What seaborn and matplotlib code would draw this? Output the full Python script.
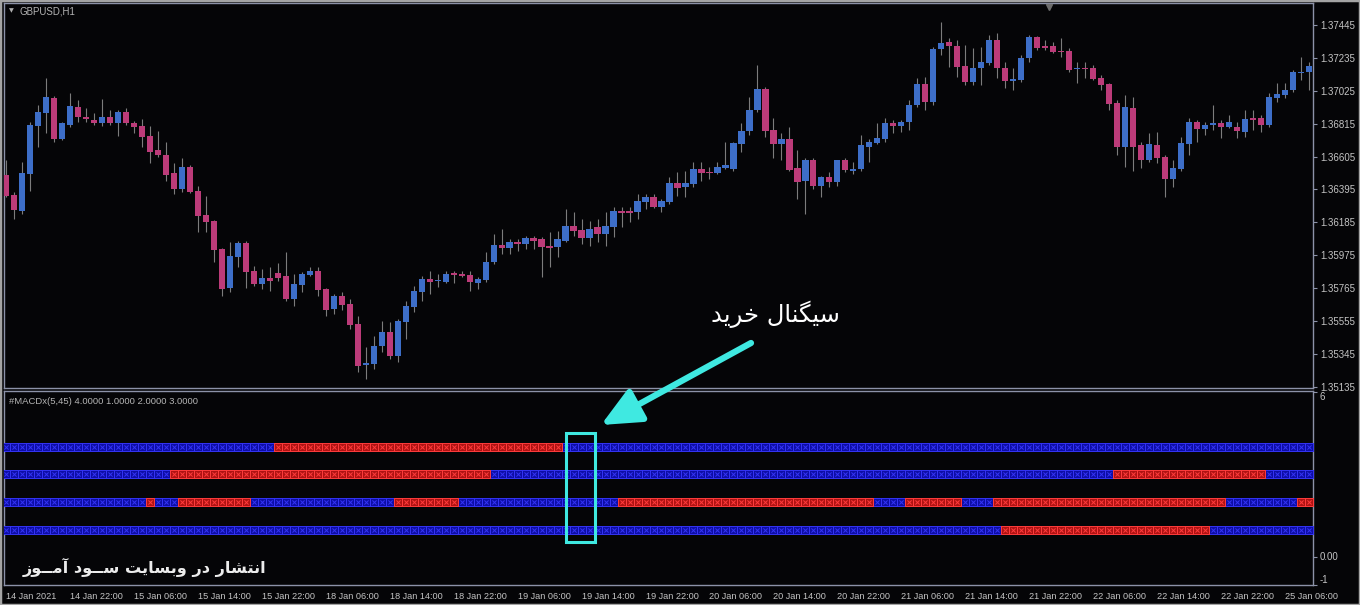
import numpy as np
import pandas as pd
import matplotlib
matplotlib.use("Agg")
import matplotlib.pyplot as plt
import matplotlib.transforms as mtransforms
from matplotlib.patches import Rectangle, FancyArrowPatch
import seaborn as sns

# ---------------- data (GBPUSD H1) ----------------
opens = [1.36485, 1.36358, 1.36255, 1.36491, 1.36803, 1.36885, 1.36981, 1.36720, 1.36809, 1.36923,
         1.36859, 1.36841, 1.36816, 1.36859, 1.36822, 1.36891, 1.36816, 1.36803, 1.36739, 1.36644,
         1.36612, 1.36498, 1.36396, 1.36541, 1.36383, 1.36230, 1.36192, 1.36014, 1.35766, 1.35963,
         1.36053, 1.35874, 1.35791, 1.35830, 1.35862, 1.35842, 1.35696, 1.35785, 1.35849, 1.35874,
         1.35760, 1.35632, 1.35715, 1.35664, 1.35537, 1.35276, 1.35282, 1.35397, 1.35486, 1.35333,
         1.35550, 1.35645, 1.35741, 1.35823, 1.35810, 1.35804, 1.35862, 1.35855, 1.35849, 1.35798,
         1.35817, 1.35931, 1.36040, 1.36021, 1.36059, 1.36046, 1.36084, 1.36078, 1.36033, 1.36027,
         1.36065, 1.36160, 1.36135, 1.36084, 1.36154, 1.36109, 1.36154, 1.36255, 1.36255, 1.36249,
         1.36313, 1.36345, 1.36281, 1.36313, 1.36434, 1.36408, 1.36427, 1.36523, 1.36504, 1.36498,
         1.36535, 1.36523, 1.36682, 1.36771, 1.36904, 1.37038, 1.36777, 1.36682, 1.36720, 1.36529,
         1.36446, 1.36586, 1.36414, 1.36472, 1.36440, 1.36580, 1.36510, 1.36523, 1.36663, 1.36689,
         1.36720, 1.36822, 1.36803, 1.36828, 1.36936, 1.37070, 1.36955, 1.37293, 1.37337, 1.37312,
         1.37184, 1.37082, 1.37171, 1.37203, 1.37350, 1.37171, 1.37089, 1.37095, 1.37235, 1.37368,
         1.37312, 1.37312, 1.37280, 1.37280, 1.37165, 1.37171, 1.37171, 1.37108, 1.37070, 1.36949,
         1.36669, 1.36917, 1.36676, 1.36586, 1.36676, 1.36605, 1.36459, 1.36523, 1.36682, 1.36828,
         1.36784, 1.36809, 1.36822, 1.36796, 1.36796, 1.36764, 1.36853, 1.36853, 1.36809, 1.36981,
         1.37000, 1.37032, 1.37140, 1.37146]
highs = [1.36586, 1.36377, 1.36573, 1.36828, 1.36936, 1.37108, 1.36994, 1.36828, 1.37013, 1.36968,
         1.36917, 1.36885, 1.36975, 1.36904, 1.36904, 1.36917, 1.36835, 1.36847, 1.36803, 1.36771,
         1.36695, 1.36567, 1.36599, 1.36554, 1.36414, 1.36351, 1.36199, 1.36021, 1.36059, 1.36065,
         1.36065, 1.35905, 1.35887, 1.35899, 1.35925, 1.35995, 1.35855, 1.35868, 1.35899, 1.35899,
         1.35766, 1.35728, 1.35741, 1.35696, 1.35587, 1.35391, 1.35460, 1.35556, 1.35550, 1.35569,
         1.35683, 1.35778, 1.35842, 1.35874, 1.35855, 1.35874, 1.35874, 1.35874, 1.35874, 1.35836,
         1.35995, 1.36109, 1.36141, 1.36078, 1.36078, 1.36096, 1.36096, 1.36090, 1.36122, 1.36128,
         1.36268, 1.36249, 1.36205, 1.36192, 1.36205, 1.36249, 1.36281, 1.36281, 1.36281, 1.36364,
         1.36364, 1.36364, 1.36332, 1.36472, 1.36504, 1.36510, 1.36573, 1.36573, 1.36541, 1.36573,
         1.36695, 1.36701, 1.36822, 1.36987, 1.37190, 1.37050, 1.36853, 1.36758, 1.36796, 1.36650,
         1.36599, 1.36599, 1.36478, 1.36504, 1.36586, 1.36593, 1.36573, 1.36745, 1.36714, 1.36822,
         1.36853, 1.36841, 1.36841, 1.36968, 1.37108, 1.37114, 1.37305, 1.37464, 1.37362, 1.37350,
         1.37318, 1.37299, 1.37305, 1.37381, 1.37394, 1.37209, 1.37171, 1.37254, 1.37381, 1.37375,
         1.37350, 1.37337, 1.37362, 1.37299, 1.37209, 1.37209, 1.37190, 1.37127, 1.37076, 1.36968,
         1.37000, 1.36987, 1.36701, 1.36758, 1.36764, 1.36618, 1.36580, 1.36732, 1.36853, 1.36841,
         1.36828, 1.36936, 1.36841, 1.36872, 1.36828, 1.36904, 1.36904, 1.36872, 1.37013, 1.37076,
         1.37076, 1.37159, 1.37241, 1.37209]
lows = [1.36345, 1.36205, 1.36236, 1.36383, 1.36669, 1.36758, 1.36695, 1.36708, 1.36796, 1.36828,
        1.36828, 1.36809, 1.36803, 1.36809, 1.36739, 1.36809, 1.36758, 1.36663, 1.36567, 1.36605,
        1.36446, 1.36364, 1.36377, 1.36371, 1.36122, 1.36122, 1.35931, 1.35715, 1.35741, 1.35899,
        1.35766, 1.35778, 1.35760, 1.35747, 1.35810, 1.35683, 1.35651, 1.35741, 1.35842, 1.35715,
        1.35587, 1.35600, 1.35626, 1.35505, 1.35232, 1.35187, 1.35251, 1.35359, 1.35314, 1.35295,
        1.35442, 1.35613, 1.35683, 1.35728, 1.35772, 1.35798, 1.35798, 1.35836, 1.35747, 1.35760,
        1.35804, 1.35918, 1.35982, 1.35982, 1.36001, 1.36014, 1.36014, 1.35836, 1.35899, 1.35963,
        1.36059, 1.36096, 1.36046, 1.36033, 1.36059, 1.36033, 1.36090, 1.36154, 1.36186, 1.36205,
        1.36268, 1.36275, 1.36249, 1.36300, 1.36351, 1.36345, 1.36408, 1.36446, 1.36459, 1.36491,
        1.36523, 1.36510, 1.36631, 1.36745, 1.36891, 1.36732, 1.36599, 1.36586, 1.36510, 1.36332,
        1.36236, 1.36396, 1.36345, 1.36408, 1.36414, 1.36504, 1.36491, 1.36510, 1.36573, 1.36682,
        1.36695, 1.36758, 1.36764, 1.36777, 1.36923, 1.36904, 1.36936, 1.37254, 1.37177, 1.37114,
        1.37063, 1.37063, 1.37063, 1.37190, 1.37108, 1.37044, 1.37032, 1.37082, 1.37209, 1.37286,
        1.37286, 1.37267, 1.37241, 1.37146, 1.37076, 1.37108, 1.37095, 1.37032, 1.36904, 1.36618,
        1.36541, 1.36510, 1.36535, 1.36573, 1.36567, 1.36345, 1.36408, 1.36510, 1.36618, 1.36701,
        1.36745, 1.36777, 1.36726, 1.36790, 1.36726, 1.36732, 1.36777, 1.36764, 1.36796, 1.36955,
        1.36981, 1.37019, 1.37095, 1.37032]
closes = [1.36351, 1.36262, 1.36498, 1.36809, 1.36891, 1.36987, 1.36720, 1.36816, 1.36930, 1.36859,
          1.36847, 1.36816, 1.36859, 1.36822, 1.36891, 1.36816, 1.36796, 1.36732, 1.36631, 1.36618,
          1.36485, 1.36396, 1.36541, 1.36377, 1.36223, 1.36186, 1.36008, 1.35760, 1.35969, 1.36053,
          1.35868, 1.35791, 1.35830, 1.35810, 1.35830, 1.35696, 1.35791, 1.35855, 1.35874, 1.35754,
          1.35626, 1.35715, 1.35658, 1.35531, 1.35269, 1.35289, 1.35397, 1.35486, 1.35333, 1.35556,
          1.35651, 1.35747, 1.35823, 1.35804, 1.35817, 1.35855, 1.35849, 1.35842, 1.35804, 1.35823,
          1.35931, 1.36040, 1.36021, 1.36059, 1.36046, 1.36084, 1.36065, 1.36027, 1.36021, 1.36078,
          1.36160, 1.36128, 1.36084, 1.36141, 1.36109, 1.36160, 1.36255, 1.36243, 1.36243, 1.36319,
          1.36345, 1.36281, 1.36319, 1.36434, 1.36402, 1.36434, 1.36523, 1.36498, 1.36498, 1.36541,
          1.36548, 1.36689, 1.36771, 1.36904, 1.37038, 1.36771, 1.36682, 1.36720, 1.36517, 1.36440,
          1.36586, 1.36414, 1.36472, 1.36440, 1.36580, 1.36517, 1.36523, 1.36676, 1.36695, 1.36726,
          1.36816, 1.36803, 1.36828, 1.36936, 1.37070, 1.36955, 1.37293, 1.37331, 1.37312, 1.37177,
          1.37082, 1.37171, 1.37209, 1.37350, 1.37171, 1.37089, 1.37102, 1.37235, 1.37368, 1.37299,
          1.37299, 1.37273, 1.37273, 1.37159, 1.37171, 1.37165, 1.37102, 1.37063, 1.36943, 1.36669,
          1.36923, 1.36669, 1.36586, 1.36682, 1.36599, 1.36459, 1.36535, 1.36689, 1.36828, 1.36784,
          1.36809, 1.36822, 1.36796, 1.36828, 1.36771, 1.36847, 1.36841, 1.36809, 1.36987, 1.37007,
          1.37032, 1.37146, 1.37146, 1.37184]

price_ticks = [1.35135, 1.35345, 1.35555, 1.35765, 1.35975, 1.36185,
               1.36395, 1.36605, 1.36815, 1.37025, 1.37235, 1.37445]
time_labels = ["14 Jan 2021", "14 Jan 22:00", "15 Jan 06:00", "15 Jan 14:00", "15 Jan 22:00",
               "18 Jan 06:00", "18 Jan 14:00", "18 Jan 22:00", "19 Jan 06:00", "19 Jan 14:00",
               "19 Jan 22:00", "20 Jan 06:00", "20 Jan 14:00", "20 Jan 22:00", "21 Jan 06:00",
               "21 Jan 14:00", "21 Jan 22:00", "22 Jan 06:00", "22 Jan 14:00", "22 Jan 22:00",
               "25 Jan 06:00"]
time_label_bars = [0, 8, 16, 24, 32, 40, 48, 56, 64, 72, 80, 88, 96, 104, 112, 120, 128, 136, 144, 152, 160]

# MACDx signal rows (level -> bar ranges that are red / sell); all other bars are blue / buy
signal_levels = [4, 3, 2, 1]
red_row4 = [(34, 69)]
red_row3 = [(21, 60), (139, 157)]
red_row2 = [(18, 18), (22, 30), (49, 56), (77, 108), (113, 119), (124, 152), (162, 163)]
red_row1 = [(125, 150)]
indicator_ticks = [6, 0, -1]
indicator_tick_labels = ["6", "0.00", "-1"]
signal_box = (70, 73.7, 0.56, 4.50)   # bars / indicator value range of the highlighted signal

title_main = "GBPUSD,H1"
title_ind = "#MACDx(5,45) 4.0000 1.0000 2.0000 3.0000"
txt_signal = "سیگنال خرید"
txt_footer = "انتشار در وبسایت ســود آمــوز"

# ---------------- simple Arabic/Persian shaping (presentation forms) ----------------
AR = {
    "\u0627": ("\uFE8D", "\uFE8E", None, None),
    "\u0622": ("\uFE81", "\uFE82", None, None),
    "\u0628": ("\uFE8F", "\uFE90", "\uFE91", "\uFE92"),
    "\u062A": ("\uFE95", "\uFE96", "\uFE97", "\uFE98"),
    "\u062E": ("\uFEA5", "\uFEA6", "\uFEA7", "\uFEA8"),
    "\u062F": ("\uFEA9", "\uFEAA", None, None),
    "\u0631": ("\uFEAD", "\uFEAE", None, None),
    "\u0632": ("\uFEAF", "\uFEB0", None, None),
    "\u0633": ("\uFEB1", "\uFEB2", "\uFEB3", "\uFEB4"),
    "\u0634": ("\uFEB5", "\uFEB6", "\uFEB7", "\uFEB8"),
    "\u0644": ("\uFEDD", "\uFEDE", "\uFEDF", "\uFEE0"),
    "\u0645": ("\uFEE1", "\uFEE2", "\uFEE3", "\uFEE4"),
    "\u0646": ("\uFEE5", "\uFEE6", "\uFEE7", "\uFEE8"),
    "\u0648": ("\uFEED", "\uFEEE", None, None),
    "\u06CC": ("\uFBFC", "\uFBFD", "\uFBFE", "\uFBFF"),
    "\u06AF": ("\uFB92", "\uFB93", "\uFB94", "\uFB95"),
    "\u0640": ("\u0640", "\u0640", "\u0640", "\u0640"),
}


def shape_rtl(s):
    out = []
    for k, c in enumerate(s):
        f = AR.get(c)
        if f is None:
            out.append(c)
            continue
        prev = s[k - 1] if k > 0 else None
        nxt = s[k + 1] if k + 1 < len(s) else None
        pj = prev in AR and AR[prev][2] is not None
        nj = nxt in AR and f[2] is not None
        if pj and nj:
            out.append(f[3])
        elif pj:
            out.append(f[1])
        elif nj:
            out.append(f[2])
        else:
            out.append(f[0])
    return "".join(reversed(out))


# ---------------- style ----------------
BG = "#050507"
FRAME = "#8c92a8"
LBL = "#c4c4c4"
UP = "#3d6ec8"
DN = "#bc3b79"
WICK = "#7c7c7c"
CYAN = "#3fe9e1"

sns.set_theme(style="dark", rc={
    "axes.facecolor": BG, "figure.facecolor": BG, "savefig.facecolor": BG,
    "axes.edgecolor": FRAME, "axes.grid": False, "text.color": LBL,
    "xtick.color": FRAME, "ytick.color": FRAME,
    "xtick.labelcolor": LBL, "ytick.labelcolor": LBL,
})
plt.rcParams["font.family"] = ["Liberation Sans", "DejaVu Sans"]

W, H = 1360, 605
fig = plt.figure(figsize=(W / 100, H / 100), dpi=100)


def fx(px):
    return px / W


def fy(py):
    return 1 - py / H


ax1 = fig.add_axes([fx(4), fy(388), fx(1313) - fx(4), fy(3) - fy(388)])
ax2 = fig.add_axes([fx(4), fy(585), fx(1313) - fx(4), fy(391) - fy(585)], sharex=ax1)

# ---------------- candles ----------------
df = pd.DataFrame({"open": opens, "high": highs, "low": lows, "close": closes})
df["bar"] = np.arange(len(df))
df["up"] = df["close"] >= df["open"]
body_lo = np.minimum(df["open"], df["close"])
body_h = np.maximum((df["close"] - df["open"]).abs(), 0.00004)

ax1.vlines(df["bar"], df["low"], df["high"], color=WICK, lw=0.8, zorder=2)
ax1.bar(df["bar"], body_h, bottom=body_lo, width=0.78,
        color=np.where(df["up"], UP, DN), edgecolor="none", zorder=3)

ax1.set_xlim(-0.25, 163.5)
ax1.set_ylim(1.35128, 1.37585)
ax1.yaxis.tick_right()
ax1.set_yticks(price_ticks)
ax1.set_yticklabels([f"{v:.5f}" for v in price_ticks])
ax1.tick_params(axis="y", direction="out", length=3, width=0.8, pad=2, labelsize=7)
ax1.tick_params(axis="x", bottom=False, labelbottom=False)
ax1.set_xlabel("")
ax1.set_ylabel("")

# chart-shift marker at top
ax1.plot([130.5], [0.99], marker="v", color="#6d6d6d", markersize=5,
         transform=mtransforms.blended_transform_factory(ax1.transData, ax1.transAxes),
         clip_on=False, zorder=5)

# ---------------- indicator strips ----------------
red_rows = {4: red_row4, 3: red_row3, 2: red_row2, 1: red_row1}
recs = []
for lvl in signal_levels:
    for b in df["bar"]:
        red = any(a <= b <= e for a, e in red_rows[lvl])
        recs.append((b, lvl, "sell" if red else "buy"))
sig = pd.DataFrame(recs, columns=["bar", "level", "state"])

styles = {"buy": ("#0d0da6", "#3434f4"), "sell": ("#b01212", "#ff3c3c")}
for state, (face, edge) in styles.items():
    sub = sig[sig["state"] == state]
    sns.scatterplot(data=sub, x="bar", y="level", marker="s", s=29, color=face,
                    edgecolor=edge, linewidth=0.7, ax=ax2, legend=False, zorder=3)
    ax2.scatter(sub["bar"], sub["level"], marker="x", s=9, color=edge, linewidths=0.7, zorder=4)

ax2.set_ylim(-1.0, 6.02)
ax2.yaxis.tick_right()
ax2.set_yticks(indicator_ticks)
ax2.set_yticklabels(indicator_tick_labels)
for t, va in zip(ax2.get_yticklabels(), ["top", "center", "bottom"]):
    t.set_va(va)
ax2.tick_params(axis="y", direction="out", length=3, width=0.8, pad=2, labelsize=7)
ax2.set_xticks(time_label_bars)
ax2.set_xticklabels(time_labels, ha="left")
ax2.tick_params(axis="x", direction="out", length=3, width=0.8, pad=2, labelsize=6.6)
ax2.set_xlabel("")
ax2.set_ylabel("")

sig_rect = Rectangle((signal_box[0], signal_box[2]), signal_box[1] - signal_box[0],
                     signal_box[3] - signal_box[2], fill=False, ec=CYAN, lw=2.2, zorder=6)
ax2.add_patch(sig_rect)

for ax in (ax1, ax2):
    for sp in ax.spines.values():
        sp.set_color(FRAME)
        sp.set_linewidth(1.0)

# ---------------- texts & annotations ----------------
fig.text(fx(9), fy(11), "\u25BC", fontsize=4.5, color="#b0b0b0", va="center", ha="left",
         family=["DejaVu Sans"])
fig.text(fx(20), fy(11), title_main, fontsize=7, color="#b4b4b4", va="center", ha="left")
fig.text(fx(9), fy(401), title_ind, fontsize=6.8, color="#b4b4b4", va="center", ha="left")

fig.text(fx(775), fy(314), shape_rtl(txt_signal), fontsize=17.5, color="white",
         ha="center", va="center", family=["DejaVu Sans"])
fig.text(fx(145), fy(567), shape_rtl(txt_footer), fontsize=11.6, color="#ececec",
         ha="center", va="center", family=["DejaVu Sans"], fontweight="bold")

arrow = FancyArrowPatch((fx(751), fy(343)), (fx(601), fy(425)), transform=fig.transFigure,
                        arrowstyle="-|>,head_length=1.2,head_width=0.55", mutation_scale=20,
                        lw=4.5, color=CYAN, shrinkA=0, shrinkB=0, zorder=10)
fig.patches.append(arrow)

fig.patches.append(Rectangle((0, 0), 1, 1, transform=fig.transFigure, fill=False,
                             ec="#a4a4a4", lw=2.5, zorder=20))

fig.savefig("out.png", dpi=100)
